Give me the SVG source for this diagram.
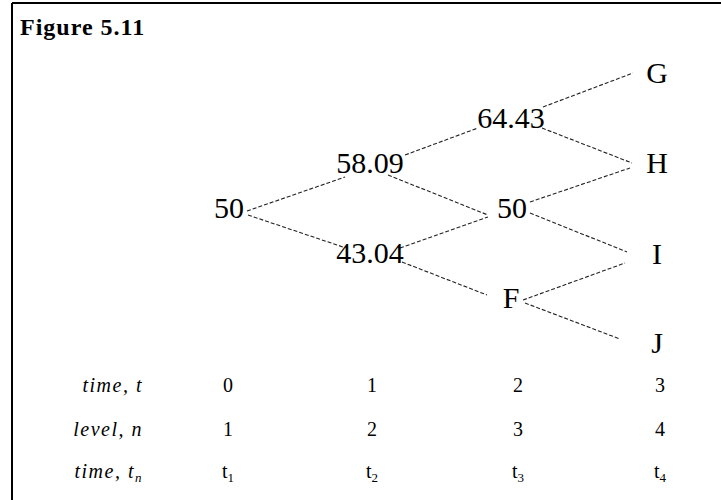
<svg xmlns="http://www.w3.org/2000/svg" width="721" height="500" viewBox="0 0 721 500">
<style>
.node{font-family:"Liberation Serif","Times New Roman",serif;font-size:30px;fill:#000;text-anchor:middle}
.lbl{font-family:"Liberation Serif","Times New Roman",serif;font-size:20px;font-style:italic;fill:#000;text-anchor:end;letter-spacing:1.5px}
.num{font-family:"Liberation Serif","Times New Roman",serif;font-size:20px;fill:#000;text-anchor:middle}
.edge{stroke:#222;stroke-width:1.1;stroke-dasharray:4 2;fill:none}
</style>
<rect width="721" height="500" fill="#fff"/>
<g id="frame" stroke="#000" stroke-width="2">
<line x1="12" y1="3" x2="721" y2="3"/>
<line x1="12" y1="3" x2="12" y2="500"/>
</g>
<text x="20" y="35" font-family="Liberation Serif,serif" font-weight="bold" font-size="24" letter-spacing="1">Figure 5.11</text>
<g id="connectors" class="edge">
<line x1="247" y1="211" x2="345" y2="177"/>
<line x1="248" y1="215" x2="343" y2="247"/>
<line x1="405" y1="155" x2="478" y2="128"/>
<line x1="388" y1="175" x2="488" y2="215"/>
<line x1="400" y1="248" x2="488" y2="217"/>
<line x1="402" y1="262" x2="487" y2="295"/>
<line x1="543" y1="107" x2="633" y2="73"/>
<line x1="542" y1="128" x2="632" y2="163"/>
<line x1="530" y1="202" x2="630" y2="168"/>
<line x1="530" y1="213" x2="627" y2="252"/>
<line x1="523" y1="300" x2="625" y2="263"/>
<line x1="525" y1="303" x2="620" y2="339"/>
</g>
<g id="n50a"><text class="node" x="229" y="218">50</text></g>
<g id="n5809"><text class="node" x="370" y="173">58.09</text></g>
<g id="n4304"><text class="node" x="370" y="263">43.04</text></g>
<g id="n6443"><text class="node" x="511" y="128">64.43</text></g>
<g id="n50b"><text class="node" x="512" y="218">50</text></g>
<g id="nF"><text class="node" x="511" y="308">F</text></g>
<g id="nG"><text class="node" x="657" y="83">G</text></g>
<g id="nH"><text class="node" x="657" y="173">H</text></g>
<g id="nI"><text class="node" x="657" y="264">I</text></g>
<g id="nJ"><text class="node" x="657" y="353">J</text></g>
<g id="table">
<text class="lbl" x="143" y="392">time, t</text>
<text class="lbl" x="143" y="436">level, n</text>
<text class="lbl" x="143" y="478">time, t<tspan font-size="13" dy="4">n</tspan></text>
<text class="num" x="228" y="392">0</text>
<text class="num" x="372" y="392">1</text>
<text class="num" x="518" y="392">2</text>
<text class="num" x="660" y="392">3</text>
<text class="num" x="228" y="436">1</text>
<text class="num" x="372" y="436">2</text>
<text class="num" x="518" y="436">3</text>
<text class="num" x="660" y="436">4</text>
<text class="num" x="228" y="478">t<tspan font-size="13" dy="4">1</tspan></text>
<text class="num" x="372" y="478">t<tspan font-size="13" dy="4">2</tspan></text>
<text class="num" x="518" y="478">t<tspan font-size="13" dy="4">3</tspan></text>
<text class="num" x="660" y="478">t<tspan font-size="13" dy="4">4</tspan></text>
</g>
</svg>
